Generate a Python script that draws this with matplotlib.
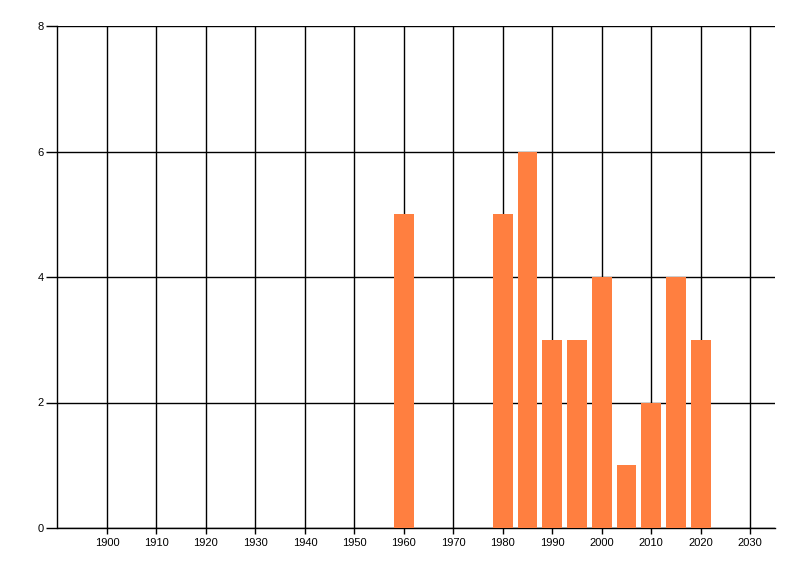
import matplotlib
matplotlib.use("Agg")
import matplotlib.pyplot as plt

# Bar data
years = [1960, 1980, 1985, 1990, 1995, 2000, 2005, 2010, 2015, 2020]
counts = [5, 5, 6, 3, 3, 4, 1, 2, 4, 3]

x_ticks = list(range(1900, 2031, 10))
y_ticks = [0, 2, 4, 6, 8]

plt.rcParams['font.family'] = ['Liberation Sans', 'DejaVu Sans']

fig = plt.figure(figsize=(8, 5.76), dpi=100)
ax = fig.add_axes([57.5 / 800, 48 / 576, (775 - 57.5) / 800, (528 - 26) / 576])

ax.bar(years, counts, width=4, color='#FF7F40', zorder=3)

ax.set_xlim(1890, 2035)
ax.set_ylim(0, 8)
ax.set_xticks(x_ticks)
ax.set_yticks(y_ticks)

ax.grid(True, color='black', linewidth=1, zorder=0)
ax.set_axisbelow(True)

for side in ['top', 'right']:
    ax.spines[side].set_visible(False)
for side in ['left', 'bottom']:
    ax.spines[side].set_linewidth(1)
    ax.spines[side].set_color('black')

ax.tick_params(axis='x', length=4, width=1, labelsize=8, pad=3)
ax.tick_params(axis='y', length=8, width=1, labelsize=8, pad=2)

fig.savefig("out.png", dpi=100)
